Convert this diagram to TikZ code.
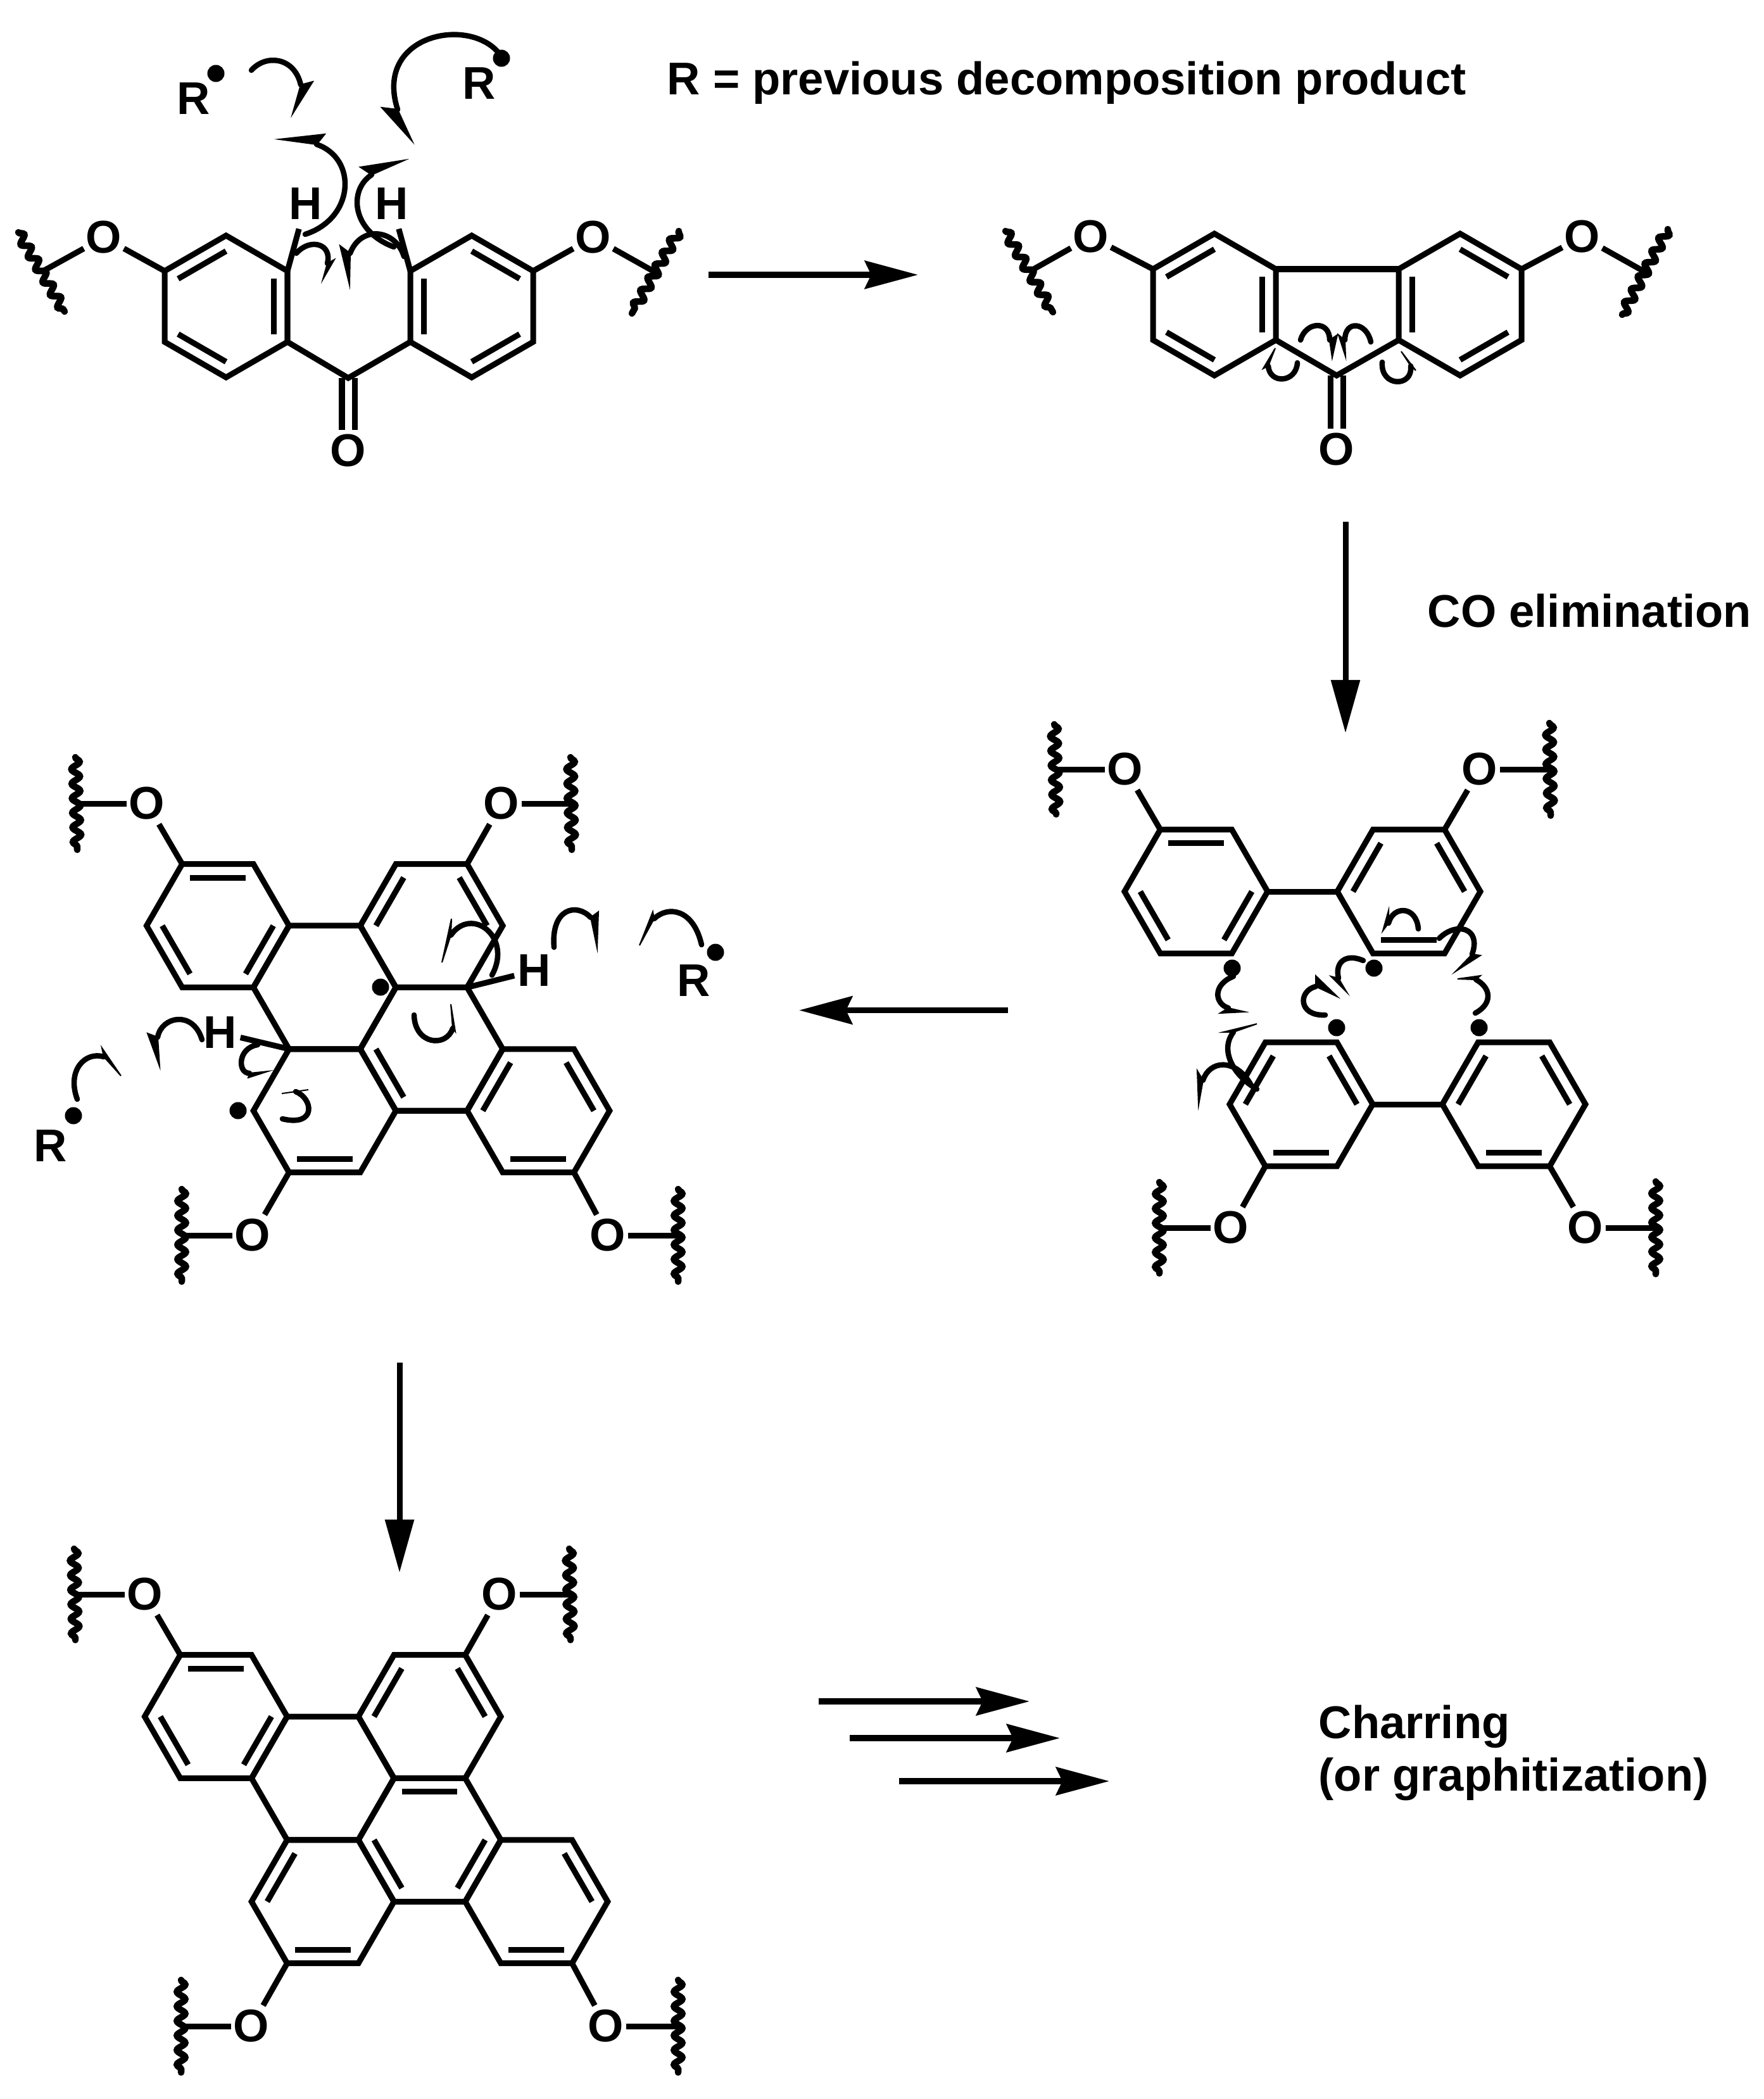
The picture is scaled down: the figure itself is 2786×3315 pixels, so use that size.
\documentclass[tikz,border=0pt]{standalone}
\usepackage{fontspec}
\setmainfont{Liberation Sans}
\usetikzlibrary{arrows.meta,calc,decorations.pathmorphing}
\tikzset{
  bond/.style={line width=.09cm},
  curly/.style={line width=.085cm,line cap=round},
  wavy/.style={line width=.105cm,line cap=round,decorate,
    decoration={snake,amplitude=.065cm,segment length=.23cm}},
  atom/.style={font=\bfseries\fontsize{20.6}{24}\selectfont,inner sep=0pt,
    minimum width=.62cm,minimum height=.64cm},
  lbl/.style={font=\bfseries\fontsize{20.6}{24}\selectfont,inner sep=0pt,anchor=base west},
  dot/.style={circle,fill=black,inner sep=0pt,minimum size=.27cm},
  rxn/.style={line width=.095cm,-{Stealth[length=.84cm,width=.44cm,inset=.1cm]}},
  rxnv/.style={line width=.09cm,-{Triangle[length=.84cm,width=.44cm]}}
}
% ring: name, centre x, centre y, first angle, radius
\newcommand{\hexring}[5]{
  \coordinate (#1c) at (#2,#3);
  \foreach \k [evaluate=\k as \a using {#4+60*(\k-1)}] in {1,...,6}
    \coordinate (#1\k) at ($(#2,#3)+(\a:#5)$);
  \draw[bond] (#11) -- (#12) -- (#13) -- (#14) -- (#15) -- (#16) -- cycle;
}
\newcommand{\dbl}[3]{\draw[bond] ($(#1#2)!.22!(#1c)$) -- ($(#1#3)!.22!(#1c)$);}
\newcommand{\cutbond}[3]{
  \draw[wavy] (#2) -- (#3);
  \draw[bond] (#1) -- ($(#2)!.5!(#3)$);
}
\newcommand{\fishhook}[6]{
  \draw[curly] (#1) .. controls (#2) and (#3) .. (#4);
  \filldraw[line width=.02cm] (#4) -- (#5) -- (#6) -- cycle;
}
\begin{document}
\begin{tikzpicture}[x=.01cm,y=-.01cm]
  \useasboundingbox (0,0) rectangle (2786,3315);

  % benzophenone
  \hexring{aL}{357}{484}{-90}{112}
  \hexring{aR}{745}{484}{-90}{112}
  \dbl{aL}{6}{1} \dbl{aL}{2}{3} \dbl{aL}{4}{5}
  \dbl{aR}{1}{2} \dbl{aR}{3}{4} \dbl{aR}{5}{6}
  \coordinate (aC) at (550,597);
  \draw[bond] (aL3) -- (aC) -- (aR5);
  \node[atom] (aOc) at (550,712) {O};
  \node[atom] (aOl) at (164,375) {O};
  \node[atom] (aOr) at (937,375) {O};
  \node[atom] (aHl) at (483,322) {H};
  \node[atom] (aHr) at (619,322) {H};
  \node[atom] (aRl) at (306,156) {R};
  \node[atom] (aRr) at (757,132) {R};
  \node[dot] (aDl) at (341,116) {};
  \node[dot] (aDr) at (792,92) {};
  \draw[bond] ([xshift=-.1cm]aC) -- ([xshift=-.1cm]aOc.north);
  \draw[bond] ([xshift=.1cm]aC) -- ([xshift=.1cm]aOc.north);
  \draw[bond] (aL6) -- (aOl);
  \draw[bond] (aR2) -- (aOr);
  \draw[bond,shorten >=.07cm] (aL2) -- (aHl);
  \draw[bond,shorten >=.07cm] (aR6) -- (aHr);
  \cutbond{aOl}{29,367}{102,492}
  \cutbond{aOr}{1072,365}{998,495}
  \fishhook{397,111}{420,85}{465,90}{475,134}{494,129}{462,180}
  \fishhook{788,84}{740,25}{590,55}{628,173}{603,170}{651,223}
  \fishhook{482,370}{560,345}{565,250}{500,228}{513,212}{441,220}
  \fishhook{622,390}{555,365}{550,300}{587,276}{569,264}{639,253}
  \fishhook{468,400}{490,375}{525,385}{517,416}{528,410}{510,441}
  \fishhook{638,405}{625,362}{570,355}{553,400}{537,388}{552,450}
  \node[lbl] (title) at (1053,150) {R = previous decomposition product};
  \coordinate (a1s) at (1119,434);
  \coordinate (a1e) at (1450,434);
  \draw[rxn] (a1s) -- (a1e);

  % fluorenone
  \hexring{bL}{1918}{481}{-90}{112}
  \hexring{bR}{2306}{481}{-90}{112}
  \dbl{bL}{6}{1} \dbl{bL}{2}{3} \dbl{bL}{4}{5}
  \dbl{bR}{1}{2} \dbl{bR}{3}{4} \dbl{bR}{5}{6}
  \coordinate (bC) at (2111,593);
  \draw[bond] (bL2) -- (bR6);
  \draw[bond] (bL3) -- (bC) -- (bR5);
  \node[atom] (bOc) at (2111,710) {O};
  \node[atom] (bOl) at (1723,374) {O};
  \node[atom] (bOr) at (2499,374) {O};
  \draw[bond] ([xshift=-.1cm]bC) -- ([xshift=-.1cm]bOc.north);
  \draw[bond] ([xshift=.1cm]bC) -- ([xshift=.1cm]bOc.north);
  \draw[bond] (bL6) -- (bOl);
  \draw[bond] (bR2) -- (bOr);
  \cutbond{bOl}{1588,365}{1663,493}
  \cutbond{bOr}{2634,362}{2562,497}
  \fishhook{2054,537}{2062,508}{2100,505}{2100,537}{2112,529}{2104,565}
  \fishhook{2165,540}{2158,508}{2124,505}{2124,537}{2114,529}{2125,563}
  \fishhook{2049,573}{2047,605}{2005,607}{2003,578}{1995,582}{2014,550}
  \fishhook{2183,572}{2180,612}{2232,612}{2228,578}{2236,585}{2213,555}
  \coordinate (a2s) at (2125,824);
  \coordinate (a2e) at (2125,1158);
  \draw[rxnv] (a2s) -- (a2e);
  \node[lbl] (coel) at (2254,990) {CO elimination};

  % tetraradical
  \hexring{cTL}{1889}{1408}{-120}{113}
  \hexring{cTR}{2225}{1408}{-120}{113}
  \hexring{cBL}{2055}{1744}{-120}{113}
  \hexring{cBR}{2391}{1744}{-120}{113}
  \dbl{cTL}{1}{2} \dbl{cTL}{3}{4} \dbl{cTL}{5}{6}
  \dbl{cTR}{6}{1} \dbl{cTR}{2}{3} \dbl{cTR}{4}{5}
  \dbl{cBL}{6}{1} \dbl{cBL}{2}{3} \dbl{cBL}{4}{5}
  \dbl{cBR}{6}{1} \dbl{cBR}{2}{3} \dbl{cBR}{4}{5}
  \draw[bond] (cTL3) -- (cTR6);
  \draw[bond] (cBL3) -- (cBR6);
  \node[atom] (cOa) at (1777,1215) {O};
  \node[atom] (cOb) at (2337,1215) {O};
  \node[atom] (cOc) at (1944,1939) {O};
  \node[atom] (cOd) at (2504,1939) {O};
  \draw[bond] (cTL1) -- (cOa);
  \draw[bond] (cTR2) -- (cOb);
  \draw[bond] (cBL5) -- (cOc);
  \draw[bond] (cBR4) -- (cOd);
  \cutbond{cOa}{1665,1144}{1668,1286}
  \cutbond{cOb}{2447,1142}{2449,1288}
  \cutbond{cOc}{1831,1867}{1831,2011}
  \cutbond{cOd}{2615,1866}{2615,2012}
  \node[dot] (cDa) at (1946,1529) {};
  \node[dot] (cDb) at (2170,1529) {};
  \node[dot] (cDc) at (2111,1623) {};
  \node[dot] (cDd) at (2336,1623) {};
  \fishhook{1948,1542}{1915,1555}{1918,1585}{1940,1592}{1927,1600}{1966,1598}
  \fishhook{1985,1720}{1950,1700}{1925,1660}{1948,1630}{1932,1630}{1985,1617}
  \fishhook{1975,1712}{1950,1670}{1910,1675}{1900,1706}{1891,1691}{1893,1745}
  \fishhook{2093,1603}{2050,1605}{2050,1565}{2078,1558}{2078,1541}{2112,1574}
  \fishhook{2153,1517}{2125,1505}{2108,1520}{2114,1545}{2102,1542}{2127,1567}
  \fishhook{2240,1467}{2237,1430}{2200,1430}{2193,1458}{2193,1438}{2184,1470}
  \fishhook{2273,1482}{2300,1455}{2340,1465}{2325,1507}{2338,1509}{2299,1534}
  \fishhook{2330,1600}{2358,1585}{2355,1560}{2331,1547}{2338,1541}{2302,1546}
  \coordinate (a3s) at (1592,1595.5);
  \coordinate (a3e) at (1262,1595.5);
  \draw[rxn] (a3s) -- (a3e);

  % dihydro intermediate
  \hexring{dTL}{344}{1462}{-120}{112.5}
  \hexring{dTR}{681.5}{1462}{-120}{112.5}
  \hexring{dM}{512.75}{1559.4}{-120}{112.5}
  \hexring{dC}{681.5}{1656.8}{-120}{112.5}
  \hexring{dBL}{512.75}{1754.2}{-120}{112.5}
  \hexring{dBR}{850.25}{1754.2}{-120}{112.5}
  \dbl{dTL}{1}{2} \dbl{dTL}{3}{4} \dbl{dTL}{5}{6}
  \dbl{dTR}{6}{1} \dbl{dTR}{2}{3}
  \dbl{dC}{5}{6}
  \dbl{dBL}{4}{5}
  \dbl{dBR}{6}{1} \dbl{dBR}{2}{3} \dbl{dBR}{4}{5}
  \node[atom] (dOa) at (232,1269) {O};
  \node[atom] (dOb) at (792,1269) {O};
  \node[atom] (dOc) at (399,1951) {O};
  \node[atom] (dOd) at (960,1951) {O};
  \draw[bond] (dTL1) -- (dOa);
  \draw[bond] (dTR2) -- (dOb);
  \draw[bond] (dBL5) -- (dOc);
  \draw[bond] (dBR4) -- (dOd);
  \cutbond{dOa}{119,1196}{122,1342}
  \cutbond{dOb}{901,1196}{903,1342}
  \cutbond{dOc}{287,1878}{287,2024}
  \cutbond{dOd}{1071,1878}{1071,2024}
  \node[atom] (dHr) at (844,1533) {H};
  \node[atom] (dHl) at (348,1631) {H};
  \node[atom] (dRr) at (1096,1549) {R};
  \node[atom] (dRl) at (80,1810) {R};
  \draw[bond] (dTR4) -- (dHr);
  \draw[bond] (dBL1) -- (dHl);
  \node[dot] (dDr) at (1130,1504) {};
  \node[dot] (dDl) at (116,1762) {};
  \node[dot] (dDa) at (601,1559) {};
  \node[dot] (dDb) at (376,1754) {};
  \fishhook{777,1540}{810,1480}{745,1430}{712,1477}{713,1451}{698,1520}
  \fishhook{875,1496}{870,1435}{910,1425}{933,1449}{945,1440}{943,1497}
  \fishhook{1108,1492}{1095,1435}{1055,1430}{1033,1451}{1031,1440}{1010,1493}
  \fishhook{654,1603}{655,1650}{705,1655}{715,1624}{719,1629}{712,1586}
  \fishhook{319,1642}{305,1595}{255,1605}{249,1638}{233,1632}{252,1684}
  \fishhook{122,1736}{105,1690}{135,1660}{164,1669}{161,1655}{191,1699}
  \fishhook{407,1650}{375,1655}{375,1695}{394,1695}{392,1702}{423,1692}
  \fishhook{446,1767}{500,1780}{495,1735}{467,1724}{487,1721}{445,1727}
  \coordinate (a4s) at (631,2152);
  \coordinate (a4e) at (631,2484);
  \draw[rxnv] (a4s) -- (a4e);

  % triphenylene product
  \hexring{eTL}{341}{2711}{-120}{112.5}
  \hexring{eTR}{678.5}{2711}{-120}{112.5}
  \hexring{eM}{509.75}{2808.4}{-120}{112.5}
  \hexring{eC}{678.5}{2905.8}{-120}{112.5}
  \hexring{eBL}{509.75}{3003.2}{-120}{112.5}
  \hexring{eBR}{847.25}{3003.2}{-120}{112.5}
  \dbl{eTL}{1}{2} \dbl{eTL}{3}{4} \dbl{eTL}{5}{6}
  \dbl{eTR}{6}{1} \dbl{eTR}{2}{3}
  \dbl{eC}{1}{2} \dbl{eC}{3}{4} \dbl{eC}{5}{6}
  \dbl{eBL}{6}{1} \dbl{eBL}{4}{5}
  \dbl{eBR}{2}{3} \dbl{eBR}{4}{5}
  \node[atom] (eOa) at (229,2518) {O};
  \node[atom] (eOb) at (789,2518) {O};
  \node[atom] (eOc) at (397,3200) {O};
  \node[atom] (eOd) at (957,3200) {O};
  \draw[bond] (eTL1) -- (eOa);
  \draw[bond] (eTR2) -- (eOb);
  \draw[bond] (eBL5) -- (eOc);
  \draw[bond] (eBR4) -- (eOd);
  \cutbond{eOa}{117,2446}{119,2590}
  \cutbond{eOb}{899,2446}{901,2590}
  \cutbond{eOc}{286,3127}{286,3273}
  \cutbond{eOd}{1071,3127}{1071,3273}

  \coordinate (a5s) at (1293,2687);
  \coordinate (a5e) at (1626,2687);
  \coordinate (a6s) at (1342,2745);
  \coordinate (a6e) at (1674,2745);
  \coordinate (a7s) at (1420,2813);
  \coordinate (a7e) at (1752,2813);
  \draw[rxn] (a5s) -- (a5e);
  \draw[rxn] (a6s) -- (a6e);
  \draw[rxn] (a7s) -- (a7e);
  \node[lbl] (char) at (2082,2745) {Charring};
  \node[lbl] (graph) at (2082,2828) {(or graphitization)};
\end{tikzpicture}
\end{document}
